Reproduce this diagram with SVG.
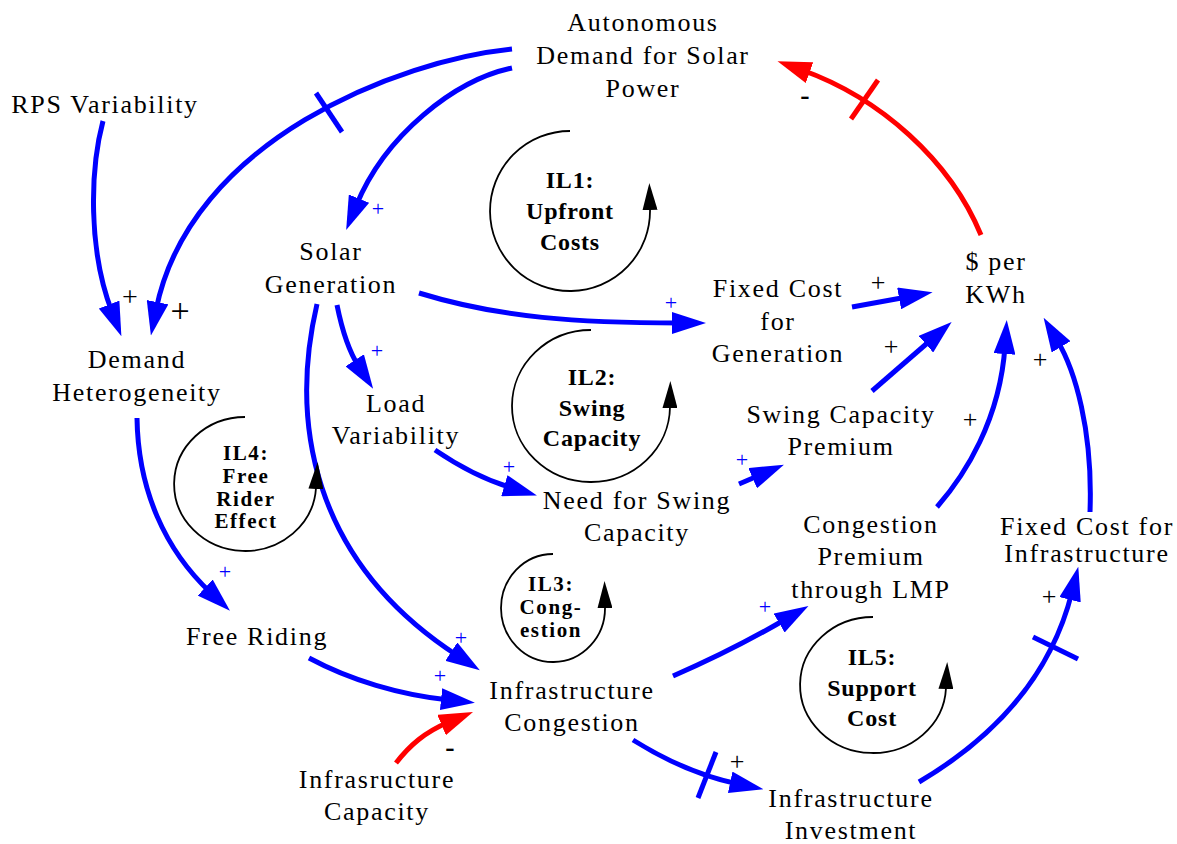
<svg xmlns="http://www.w3.org/2000/svg" width="1177" height="844" viewBox="0 0 1177 844" font-family="Liberation Serif, DejaVu Serif, serif">
<style>
.n{font-size:26px;letter-spacing:1.7px;fill:#000;text-anchor:middle}
.l{font-size:24px;font-weight:bold;letter-spacing:0.8px;fill:#000;text-anchor:middle}
.s{font-size:21px;font-weight:bold;letter-spacing:1.6px;fill:#000;text-anchor:middle}
.pb{font-size:22px;fill:#0000FF;text-anchor:middle}
.pk{font-size:26px;fill:#000;text-anchor:middle}
.m{font-size:28px;font-weight:bold;fill:#000;text-anchor:middle}
.cb{fill:none;stroke:#0000FF;stroke-width:5;marker-end:url(#ab)}
.cr{fill:none;stroke:#FF0000;stroke-width:5;marker-end:url(#ar)}
.db{fill:none;stroke:#0000FF;stroke-width:5}
.dr{fill:none;stroke:#FF0000;stroke-width:5}
.lp{fill:none;stroke:#000;stroke-width:1.8;marker-end:url(#ak)}
</style>
<defs>
<marker id="ab" viewBox="0 0 34 22" refX="8" refY="11" markerWidth="34" markerHeight="22" markerUnits="userSpaceOnUse" orient="auto"><path d="M0,0 L34,11 L0,22 z" fill="#0000FF"/></marker>
<marker id="ar" viewBox="0 0 34 22" refX="8" refY="11" markerWidth="34" markerHeight="22" markerUnits="userSpaceOnUse" orient="auto"><path d="M0,0 L34,11 L0,22 z" fill="#FF0000"/></marker>
<marker id="ak" viewBox="0 0 27 15" refX="1" refY="7.5" markerWidth="27" markerHeight="15" markerUnits="userSpaceOnUse" orient="auto"><path d="M0,0 L27,7.5 L0,15 z" fill="#000"/></marker>
</defs>
<rect width="1177" height="844" fill="#fff"/>

<g id="connectors">
<path class="cb" d="M512,49 C400,60 190,140 156,310"/>
<path class="db" d="M316,93 L342,132"/>
<path class="cb" d="M512,68 C455,80 385,135 356,206"/>
<path class="cb" d="M103,121 C90,170 88,250 112,312"/>
<path class="cr" d="M981,235 C950,160 880,98 802,70"/>
<path class="dr" d="M878,80 L851,119"/>
<path class="cb" d="M419,293 C500,318 580,323 680,323"/>
<path class="cb" d="M852,307 L907,297"/>
<path class="cb" d="M872,391 L932,339"/>
<path class="cb" d="M937,507 C965,475 1000,420 1005,346"/>
<path class="cb" d="M1090,512 C1093,430 1075,370 1057,340"/>
<path class="cb" d="M337,305 C342,330 348,350 359,367"/>
<path class="cb" d="M317,304 C290,420 310,560 458,656"/>
<path class="cb" d="M137,418 C138,490 165,550 211,593"/>
<path class="cb" d="M309,658 C350,680 400,695 449,700"/>
<path class="cr" d="M396,763 C410,745 425,732 449,722"/>
<path class="cb" d="M435,450 C460,467 485,480 512,488"/>
<path class="cb" d="M739,484 L760,475"/>
<path class="cb" d="M673,676 C710,660 750,640 786,619"/>
<path class="cb" d="M633,740 C665,760 700,776 738,784"/>
<path class="db" d="M716,752 L698,798"/>
<path class="cb" d="M919,782 C990,740 1050,680 1072,592"/>
<path class="db" d="M1033,637 L1078,659"/>
</g>

<g id="polarities">
<text class="pb" x="378" y="215.5">+</text>
<text class="pb" x="377" y="358">+</text>
<text class="pb" x="671" y="310">+</text>
<text class="pb" x="509" y="474">+</text>
<text class="pb" x="742" y="467">+</text>
<text class="pb" x="765" y="614">+</text>
<text class="pb" x="461" y="645">+</text>
<text class="pb" x="440" y="683">+</text>
<text class="pb" x="225" y="579">+</text>
<text class="pk" x="130" y="306" style="font-size:28px">+</text>
<text class="pk" x="180" y="322" style="font-size:34px">+</text>
<text class="pk" x="878" y="290.5">+</text>
<text class="pk" x="891" y="354.5">+</text>
<text class="pk" x="1040" y="367.5">+</text>
<text class="pk" x="970" y="427.5">+</text>
<text class="pk" x="737" y="769.5">+</text>
<text class="pk" x="1049" y="604.5">+</text>
<text class="m" x="805" y="104">-</text>
<text class="m" x="450" y="756">-</text>
</g>

<g id="loop-IL1">
<path class="lp" d="M570,131 A80,80 0 1 0 650,209"/>
<text class="l" x="570" y="188">IL1:</text>
<text class="l" x="570" y="219">Upfront</text>
<text class="l" x="570" y="250">Costs</text>
</g>
<g id="loop-IL2">
<path class="lp" d="M591,330 A79,76 0 1 0 670,407"/>
<text class="l" x="592" y="385">IL2:</text>
<text class="l" x="592" y="416">Swing</text>
<text class="l" x="592" y="446">Capacity</text>
</g>
<g id="loop-IL3">
<path class="lp" d="M553,554 A52,54 0 1 0 605,607"/>
<text class="s" x="551" y="591">IL3:</text>
<text class="s" x="551" y="614">Cong-</text>
<text class="s" x="551" y="637">estion</text>
</g>
<g id="loop-IL4">
<path class="lp" d="M245,417 A71,67 0 1 0 316,488"/>
<text class="s" x="246" y="460">IL4:</text>
<text class="s" x="246" y="483">Free</text>
<text class="s" x="246" y="506">Rider</text>
<text class="s" x="246" y="528">Effect</text>
</g>
<g id="loop-IL5">
<path class="lp" d="M873,617 A73,68 0 1 0 946,688"/>
<text class="l" x="872" y="665">IL5:</text>
<text class="l" x="872" y="696">Support</text>
<text class="l" x="872" y="726">Cost</text>
</g>

<g id="autonomous-demand"><text class="n" x="643" y="31">Autonomous</text><text class="n" x="643" y="64">Demand for Solar</text><text class="n" x="643" y="97">Power</text></g>
<g id="rps-variability"><text class="n" x="105" y="113">RPS Variability</text></g>
<g id="solar-generation"><text class="n" x="331" y="260">Solar</text><text class="n" x="331" y="293">Generation</text></g>
<g id="demand-heterogeneity"><text class="n" x="137" y="368">Demand</text><text class="n" x="137" y="401">Heterogeneity</text></g>
<g id="load-variability"><text class="n" x="396" y="412">Load</text><text class="n" x="396" y="444">Variability</text></g>
<g id="fixed-cost-generation"><text class="n" x="778" y="297">Fixed Cost</text><text class="n" x="778" y="330">for</text><text class="n" x="778" y="362">Generation</text></g>
<g id="dollar-per-kwh"><text class="n" x="996" y="270">$ per</text><text class="n" x="996" y="303">KWh</text></g>
<g id="swing-capacity-premium"><text class="n" x="841" y="423">Swing Capacity</text><text class="n" x="841" y="455">Premium</text></g>
<g id="need-swing-capacity"><text class="n" x="637" y="509">Need for Swing</text><text class="n" x="637" y="541">Capacity</text></g>
<g id="congestion-premium"><text class="n" x="871" y="533">Congestion</text><text class="n" x="871" y="565">Premium</text><text class="n" x="871" y="598">through LMP</text></g>
<g id="fixed-cost-infrastructure"><text class="n" x="1087" y="535">Fixed Cost for</text><text class="n" x="1087" y="562">Infrastructure</text></g>
<g id="free-riding"><text class="n" x="257" y="645">Free Riding</text></g>
<g id="infrastructure-congestion"><text class="n" x="572" y="699">Infrastructure</text><text class="n" x="572" y="731">Congestion</text></g>
<g id="infrastructure-capacity"><text class="n" x="377" y="788">Infrasructure</text><text class="n" x="377" y="820">Capacity</text></g>
<g id="infrastructure-investment"><text class="n" x="851" y="807">Infrastructure</text><text class="n" x="851" y="839">Investment</text></g>
</svg>
